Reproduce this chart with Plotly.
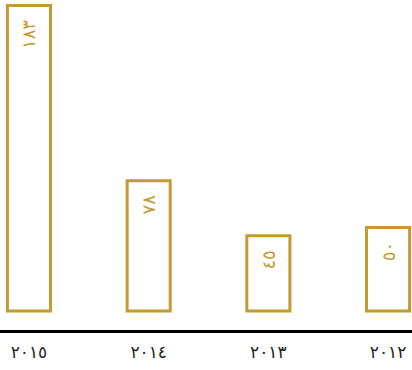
import plotly.graph_objects as go

# display order is right-to-left: newest year on the left
years = ["٢٠١٥", "٢٠١٤", "٢٠١٣", "٢٠١٢"]
counts = [183, 78, 45, 50]
labels = ["١٨٣", "٧٨", "٤٥", "٥٠"]

gold = "#c49a32"

fig = go.Figure(
    go.Bar(
        x=years,
        y=counts,
        text=labels,
        texttemplate="%{text}\u00a0\u00a0",
        textposition="inside",
        insidetextanchor="end",
        textangle=-90,
        constraintext="none",
        textfont=dict(family="DejaVu Sans", size=18, color=gold),
        width=0.36,
        marker=dict(color="white", line=dict(color=gold, width=3)),
        hoverinfo="skip",
    )
)

fig.update_layout(
    width=412,
    height=370,
    margin=dict(l=0, r=0, t=0, b=40),
    plot_bgcolor="white",
    paper_bgcolor="white",
    showlegend=False,
    font=dict(family="DejaVu Sans"),
)
fig.update_xaxes(
    type="category",
    range=[-0.242, 3.2],
    showline=True,
    linecolor="black",
    linewidth=3,
    showgrid=False,
    ticks="",
    ticklabelstandoff=5,
    tickfont=dict(size=17, color="#222"),
)
fig.update_yaxes(
    range=[-11.45, 186.3],
    visible=False,
    showgrid=False,
    zeroline=False,
)

# drop the page's default body margin so the chart sits at the window edge
fig.write_html(
    "out.html",
    config={"displayModeBar": False},
    post_script="document.body.style.margin='0';",
)
